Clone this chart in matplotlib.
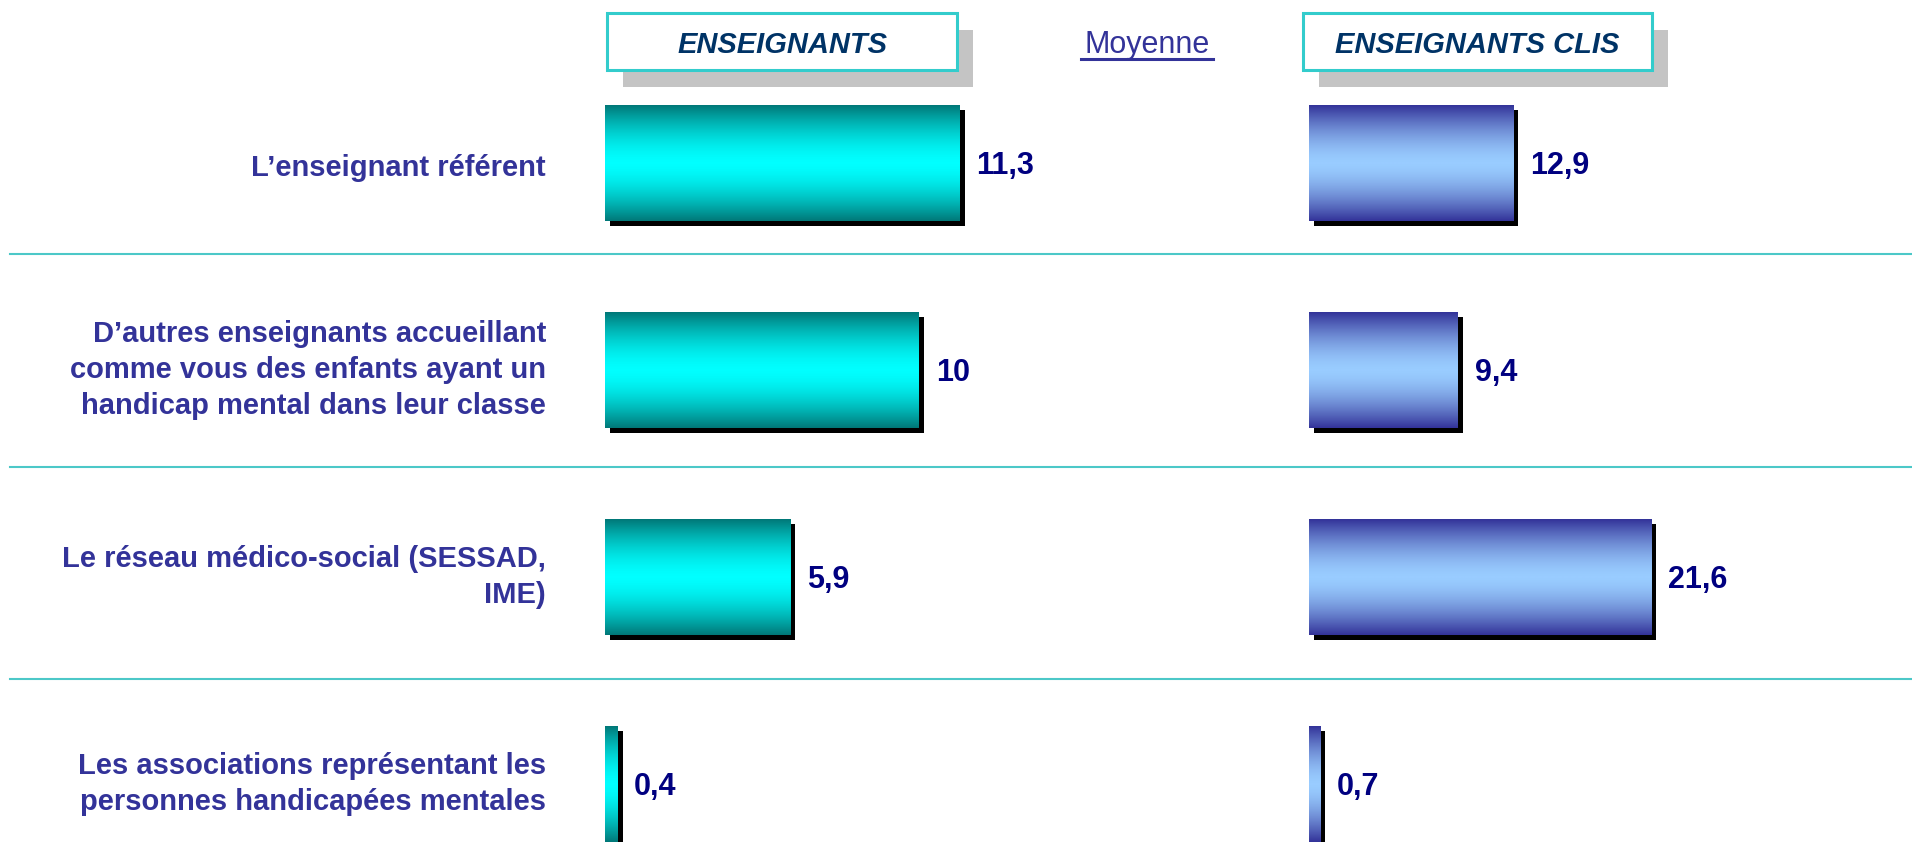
"""
Moyenne des réponses : enseignants vs enseignants CLIS
"""

import matplotlib
matplotlib.use('Agg')
import matplotlib.pyplot as plt
import numpy as np
from matplotlib.colors import LinearSegmentedColormap
from matplotlib.patches import Rectangle
from matplotlib.lines import Line2D
from matplotlib.transforms import ScaledTranslation

# data
categories = [
	"L\u2019enseignant référent",
	"D\u2019autres enseignants accueillant\ncomme vous des enfants ayant un\nhandicap mental dans leur classe",
	"Le réseau médico-social (SESSAD,\nIME)",
	"Les associations représentant les\npersonnes handicapées mentales",
]
enseignants = [11.3, 10, 5.9, 0.4]
enseignants_clis = [12.9, 9.4, 21.6, 0.7]
headers = ["ENSEIGNANTS", "ENSEIGNANTS CLIS"]
middle_title = "Moyenne"

W, H = 1912, 842
FONT = 'Liberation Sans'
LABEL_COL = '#333399'
VALUE_COL = '#000080'
HEAD_COL = '#003366'
LINE_COL = '#4CC8C8'


def fx(x):
	return x / W


def fy(y):
	return 1 - y / H


def bar_profile(n=200, power=1.6):
	t = np.abs(np.linspace(-1, 1, n))
	return (t ** power).reshape(-1, 1)


def draw_panel(ax, values, cmap, fig):
	h = 0.56
	grad = bar_profile()
	shadow = ax.transData + ScaledTranslation(5 / 100, -5 / 100, fig.dpi_scale_trans)
	for i, v in enumerate(values):
		ax.add_patch(Rectangle((0, i - h / 2), v, h, facecolor='black',
			edgecolor='none', transform=shadow, zorder=1, clip_on=False))
		ax.imshow(grad, extent=(0, v, i + h / 2, i - h / 2), aspect='auto',
			cmap=cmap, vmin=0, vmax=1, interpolation='bilinear', zorder=2,
			clip_on=False)
		# value label: baseline ~11 px below the bar centre
		ax.annotate(f'{v:g}'.replace('.', ','), xy=(v, i), xytext=(12, -8),
			textcoords='offset points', ha='left', va='baseline',
			fontsize=22, fontweight='bold', color=VALUE_COL, family=FONT)


def main():
	fig = plt.figure(figsize=(W / 100, H / 100), dpi=100)

	teal = LinearSegmentedColormap.from_list('teal', ['#00FFFF', '#007878'])
	blue = LinearSegmentedColormap.from_list('blue', ['#99CCFF', '#333399'])

	# row layout: row 0 centred at 163 px, pitch 207 px
	y_top = -163 / 207
	y_bot = (H - 163) / 207

	ax1 = fig.add_axes([fx(605), 0, fx(1250 - 605), 1])
	draw_panel(ax1, enseignants, teal, fig)
	ax1.set_xlim(0, 645 / 31.4)
	ax1.set_ylim(y_bot, y_top)
	ax1.axis('off')

	ax2 = fig.add_axes([fx(1309), 0, fx(W - 1309), 1])
	draw_panel(ax2, enseignants_clis, blue, fig)
	ax2.set_xlim(0, (W - 1309) / 15.85)
	ax2.set_ylim(y_bot, y_top)
	ax2.axis('off')

	# category labels, right aligned left of the bars
	for i, lab in enumerate(categories):
		nudge = 0.025 if '\n' not in lab else 0
		ax1.text(-(605 - 546) / 31.4, i + nudge, lab, ha='right', va='center',
			fontsize=21, fontweight='bold', color=LABEL_COL, family=FONT,
			linespacing=1.36, clip_on=False)

	# separators
	for y in [254, 467, 679]:
		fig.add_artist(Line2D([fx(10), 1], [fy(y), fy(y)], color=LINE_COL, lw=1.5))

	# header boxes
	boxes = [(607, 13, 957, 70), (1303, 13, 1652, 70)]
	for (x0, y0, x1, y1), txt in zip(boxes, headers):
		fig.add_artist(Rectangle((fx(x0 + 16), fy(y1 + 17)), fx(x1 - x0), (y1 - y0) / H,
			facecolor='#C4C4C4', edgecolor='none', transform=fig.transFigure))
		fig.add_artist(Rectangle((fx(x0), fy(y1)), fx(x1 - x0), (y1 - y0) / H,
			facecolor='white', edgecolor='#33CCCC', lw=2.2, transform=fig.transFigure))
		fig.text(fx((x0 + x1) / 2), fy(53), txt, ha='center', va='baseline',
			fontsize=21, fontweight='bold', fontstyle='italic', color=HEAD_COL, family=FONT)

	fig.text(fx(1147), fy(53), middle_title, ha='center', va='baseline',
		fontsize=22, color=LABEL_COL, family=FONT)
	fig.add_artist(Line2D([fx(1081), fx(1213)], [fy(59), fy(59)], color=LABEL_COL, lw=2.2))

	fig.savefig('out.png', dpi=100)


if __name__ == '__main__':
	main()
